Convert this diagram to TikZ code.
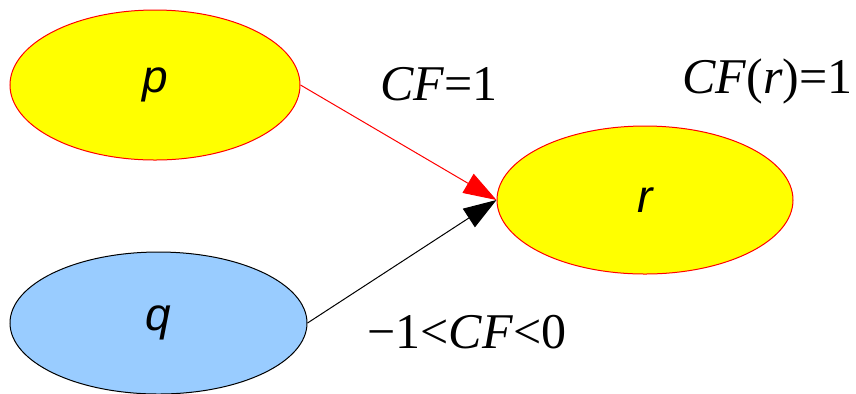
\documentclass[tikz,border=0pt]{standalone}
\usepackage{fontspec}
\setmainfont{Liberation Serif}
\setsansfont{Liberation Sans}
\usepackage{xcolor}
\usepackage{tikz}
\usetikzlibrary{positioning,arrows.meta,shapes.geometric}
\definecolor{cfyellow}{RGB}{255,255,0}
\definecolor{cfblue}{RGB}{153,204,255}
\tikzset{
  fact/.style={ellipse, inner sep=0pt, line width=0.5pt, font=\fontsize{23}{27}\selectfont\sffamily\itshape},
  cflabel/.style={anchor=base west, inner sep=0pt, font=\fontsize{25}{30}\selectfont},
  arr/.style={-{Triangle[length=16.5pt, width=11pt]}, line width=0.5pt},
}

\begin{document}
\begin{tikzpicture}[x=0.5pt, y=-0.5pt]
    \useasboundingbox (0,0) rectangle (856,393);
    \node[fact, draw=red, fill=cfyellow, minimum width=145pt, minimum height=75pt] (p) at (155,85) {p};
    \node[fact, draw=black, fill=cfblue, minimum width=148.5pt, minimum height=71pt] (q) at (158.5,323) {q};
    \node[fact, draw=red, fill=cfyellow, minimum width=148pt, minimum height=74pt] (r) at (645,200) {r};
    \draw[arr, red] (p.east) -- (r.west);
    \draw[arr, black] (q.east) -- (r.west);
    \node[cflabel] (cfp) at (380,100) {\textit{CF}=1};
    \node[cflabel] (cfr) at (682,93) {\textit{CF}(\textit{r})=1};
    \node[cflabel] (cfq) at (367,348) {−1<\textit{CF}<0};
  \end{tikzpicture}
\end{document}
